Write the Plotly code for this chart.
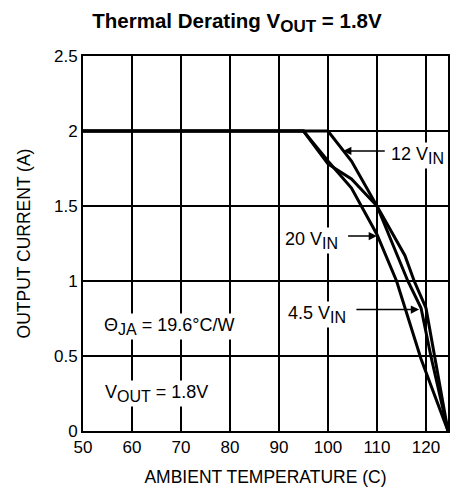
import plotly.graph_objects as go

# ambient temperature (C) and output current (A) for each input voltage
temp_12v = [50, 100, 104.8, 110, 115.7, 117.6, 120, 124.5]
amps_12v = [2.0, 2.0, 1.80, 1.50, 1.17, 1.00, 0.82, 0.0]

temp_45v = [50, 95, 100, 104.8, 110, 116.3, 119, 121, 124.5]
amps_45v = [2.0, 2.0, 1.78, 1.68, 1.50, 1.00, 0.82, 0.50, 0.0]

temp_20v = [50, 95, 100, 104.8, 110, 114, 119, 124.5]
amps_20v = [2.0, 2.0, 1.80, 1.62, 1.31, 1.00, 0.48, 0.0]

x_ticks = [50, 60, 70, 80, 90, 100, 110, 120]
y_ticks = [0, 0.5, 1, 1.5, 2, 2.5]
y_tick_text = ["0", "0.5", "1", "1.5", "2", "2.5"]

FONT = "Liberation Sans, Arial, Helvetica, sans-serif"


def sub(s, size):
    return f"<sub><span style='font-size:{size}px'>{s}</span></sub>"


fig = go.Figure()

for t, a, name in [
    (temp_20v, amps_20v, "20 V"),
    (temp_45v, amps_45v, "4.5 V"),
    (temp_12v, amps_12v, "12 V"),
]:
    fig.add_trace(
        go.Scatter(
            x=t,
            y=a,
            name=name,
            mode="lines",
            line=dict(color="black", width=3),
            showlegend=False,
        )
    )

# curve labels (white box hides the grid behind them)
labels = [
    (118.2, 1.84, "12 V" + sub("IN", 16)),
    (96.7, 1.27, "20 V" + sub("IN", 16)),
    (97.7, 0.78, "4.5 V" + sub("IN", 16)),
    (67.6, 0.70, "Θ" + sub("JA", 16) + " = 19.6°C/W"),
    (65.0, 0.25, "V" + sub("OUT", 16) + " = 1.8V"),
]
for x, y, txt in labels:
    fig.add_annotation(
        x=x, y=y, text=txt, showarrow=False,
        bgcolor="white", font=dict(size=18, color="black", family=FONT),
        borderpad=1,
    )

# arrows: (tip x, tip y, tail x, tail y)
arrows = [
    (103.1, 1.867, 111.9, 1.867),
    (110.0, 1.30, 103.8, 1.30),
    (118.6, 0.81, 105.5, 0.81),
]
for x, y, ax, ay in arrows:
    fig.add_annotation(
        x=x, y=y, ax=ax, ay=ay, axref="x", ayref="y", text="",
        showarrow=True, arrowhead=2, arrowsize=1.1, arrowwidth=1.5,
        arrowcolor="black",
    )

axis_common = dict(
    showline=True, linecolor="black", linewidth=2, mirror=True,
    showgrid=True, gridcolor="black", gridwidth=2,
    zeroline=False, ticks="", tickfont=dict(size=17, color="black", family=FONT),
)

fig.update_layout(
    width=450,
    height=494,
    margin=dict(l=83, r=0, t=56, b=63),
    paper_bgcolor="white",
    plot_bgcolor="white",
    font=dict(family=FONT, color="black"),
    title=dict(
        text="<b>Thermal Derating V" + sub("OUT", 17) + " = 1.8V</b>",
        x=237 / 450, xanchor="center", y=1 - 21 / 494, yanchor="middle",
        font=dict(size=20.5, color="black", family=FONT),
    ),
    xaxis=dict(
        range=[50, 124.5], tickvals=x_ticks,
        title=dict(text="AMBIENT TEMPERATURE (C)", font=dict(size=17.5), standoff=14),
        **axis_common,
    ),
    yaxis=dict(
        range=[0, 2.5], tickvals=y_ticks, ticktext=y_tick_text,
        title=dict(text="OUTPUT CURRENT (A)", font=dict(size=17.5), standoff=19),
        **axis_common,
    ),
)

fig.write_html(
    "out.html",
    config={"displayModeBar": False},
    post_script="document.body.style.margin='0';document.body.style.overflow='hidden';",
)
